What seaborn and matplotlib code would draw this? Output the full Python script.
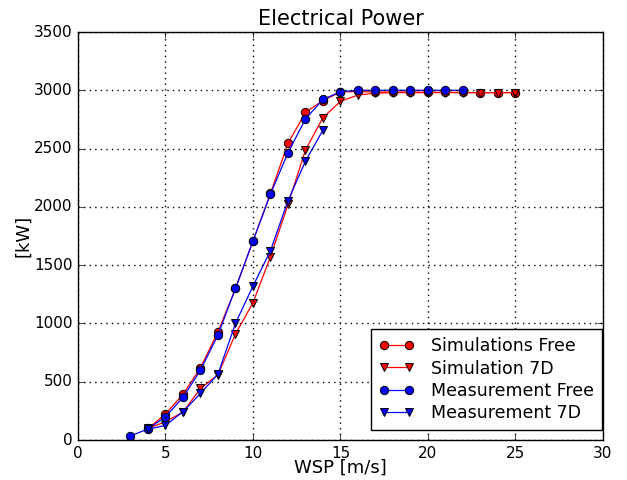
import matplotlib
matplotlib.use("Agg")
import matplotlib.pyplot as plt
import numpy as np
import pandas as pd
import seaborn as sns

# Wind speed bins [m/s]
wsp_sim = list(range(4, 26))
wsp_meas_free = list(range(3, 23))
wsp_meas_7d = list(range(4, 15))

# Electrical power [kW]
sim_free = [100, 223, 392, 620, 929, 1300, 1707, 2116, 2545, 2811, 2912, 2985,
            2990, 2985, 2985, 2985, 2983, 2983, 2982, 2980, 2980, 2980]
sim_7d = [100, 157, 240, 443, 560, 909, 1178, 1573, 2021, 2488, 2766, 2905,
          2960, 2975, 2980, 2980, 2980, 2980, 2980, 2980, 2980, 2980]
meas_free = [35, 95, 200, 366, 600, 901, 1301, 1707, 2110, 2465, 2754, 2922,
             2988, 3000, 3000, 3000, 3000, 3000, 3000, 3000]
meas_7d = [92, 126, 243, 400, 566, 1001, 1321, 1624, 2053, 2393, 2659]

series = [
    ("Simulations Free", wsp_sim, sim_free, "red", "o"),
    ("Simulation 7D", wsp_sim, sim_7d, "red", "v"),
    ("Measurement Free", wsp_meas_free, meas_free, "blue", "o"),
    ("Measurement 7D", wsp_meas_7d, meas_7d, "blue", "v"),
]

plt.style.use("classic")
fig = plt.figure(figsize=(6.27, 4.8), dpi=100, facecolor="white")
ax = fig.add_axes([0.1244, 0.0833, 0.8373, 0.85])

for label, x, y, color, marker in series:
    df = pd.DataFrame({"WSP": x, "P": y})
    sns.lineplot(data=df, x="WSP", y="P", ax=ax, color=color, marker=marker,
                 markersize=6, markeredgecolor="black", markeredgewidth=0.7,
                 linewidth=0.9, label=label)

ax.set_xlim(0, 30)
ax.set_ylim(0, 3500)
ax.set_xticks(np.arange(0, 31, 5))
ax.set_yticks(np.arange(0, 3501, 500))
ax.grid(True, color="black", linestyle=":", linewidth=1.0)
ax.set_title("Electrical Power", fontsize=15)
ax.set_xlabel("WSP [m/s]", fontsize=13, labelpad=-1)
ax.set_ylabel("[kW]", fontsize=13, labelpad=1)
ax.tick_params(labelsize=11)
leg = ax.legend(loc="lower right", bbox_to_anchor=(0.998, 0.0245), borderaxespad=0,
                numpoints=2, fontsize=12.5, labelspacing=0.25, frameon=True,
                fancybox=False, handlelength=2.0, handletextpad=1.0,
                borderpad=0.45)
leg.get_frame().set_edgecolor("black")

fig.savefig("out.png", dpi=100, facecolor="white")
